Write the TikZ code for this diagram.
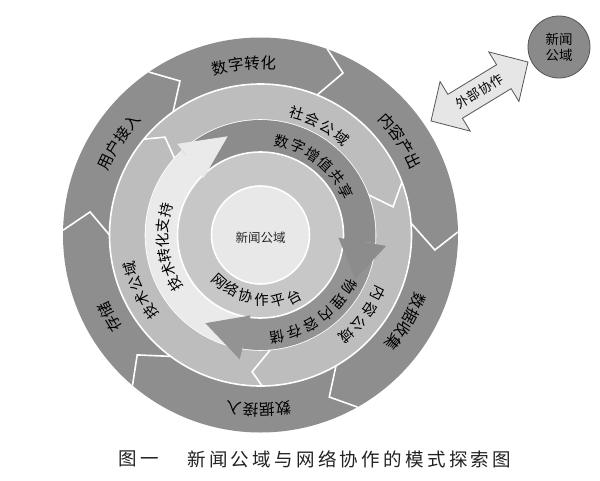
\documentclass[tikz,border=0pt]{standalone}
\usepackage{fontspec}
\setmainfont{Noto Sans CJK SC}
\newfontfamily\capfont[LetterSpace=18]{Noto Sans CJK SC}
\definecolor{outerc}{HTML}{8E8E8E}
\definecolor{ringtwo}{HTML}{BDBDBD}
\definecolor{darka}{HTML}{8C8C8C}
\definecolor{darkb}{HTML}{939393}
\definecolor{lightarr}{HTML}{EAEAEA}
\definecolor{innerc}{HTML}{C7C7C7}
\definecolor{centerc}{HTML}{E8E8E8}
\definecolor{extfill}{HTML}{E6E6E6}
\definecolor{extline}{HTML}{555555}
\definecolor{extcirc}{HTML}{8A8A8A}
\definecolor{capc}{HTML}{222222}
\tikzset{
  wline/.style={draw=white, line width=1.6pt, line join=miter},
  chr/.style={inner sep=0pt, text=black},
  fouter/.style={font=\fontsize{15.5}{15.5}\selectfont},
  fring/.style={font=\fontsize{14.5}{14.5}\selectfont},
}
% clockwise text, tops outward
\newcommand\cwtext[6]{%
  \foreach \ch [count=\i, evaluate=\i as \ang using {#2-(\i-1)*#3}] in {#5}
    \node[chr, #6, rotate=\ang-90] (#1-\i) at (\ang:#4) {\ch};
}
\begin{document}
\begin{tikzpicture}[x=1pt,y=1pt]
\useasboundingbox (0,0) rectangle (600,-480);
\fill[white] (0,0) rectangle (600,-480);
\begin{scope}[shift={(260.5,-235)}]
  % outer ring
  \fill[outerc] (0,0) circle (197.5);
  \draw[wline] (70.2:197.5) -- (63:181.8) -- (68:151);
  \draw[wline] (0.9:197.5) -- (-4.9:175) -- (4.5:151);
  \draw[wline] (-60.6:197.5) -- (-67:176) -- (-60:151);
  \draw[wline] (229.6:197.5) -- (224.2:172) -- (233.5:151);
  \draw[wline] (178.6:197.5) -- (172.3:172) -- (180:151);
  \draw[wline] (124.4:197.5) -- (117.6:173.8) -- (125.4:151);
  % second ring
  \filldraw[fill=ringtwo, wline] (0,0) circle (151);
  \draw[wline] (140.6:151) -- (134.3:136.8) -- (138.3:115);
  \draw[wline] (20.5:151) -- (12:135.5) -- (20.5:115);
  \draw[wline] (-89.4:151) -- (-93.5:137) -- (-85:115);
  % inner ring
  \filldraw[fill=innerc, wline] (0,0) circle (115);
  % arrow bands
  \fill[darka] (133:115) arc[start angle=133, end angle=-4, radius=115] -- (-4:83) arc[start angle=-4, end angle=133, radius=83] -- cycle;
  \fill[darkb] (-4:115) arc[start angle=-4, end angle=-99, radius=115] -- (-99:83) arc[start angle=-99, end angle=-4, radius=83] -- cycle;
  \fill[lightarr] (-99:115) arc[start angle=-99, end angle=-227, radius=115] -- (-227:83) arc[start angle=-227, end angle=-99, radius=83] -- cycle;
  \draw[wline] (0,0) circle (83);
  % center
  \filldraw[fill=centerc, wline] (0,0) circle (49);
  % arrow heads
  \fill[darka] (-2:78) -- (-25:104.5) -- (-5:126) -- cycle;
  \fill[darkb] (-97:81) -- (-122:104) -- (-99.5:126) -- cycle;
  \fill[lightarr] (135:80.5) -- (108.4:104) -- (132.4:123.5) -- cycle;
  % texts outer ring
  \cwtext{ta}{103.6}{5.4}{172}{数,字,转,化}{fouter}
  \cwtext{tb}{42}{5.4}{170}{内,容,产,出}{fouter}
  \cwtext{tc}{-22.8}{5.4}{171}{数,据,收,集}{fouter}
  \cwtext{td}{-82.5}{5.4}{175}{数,据,接,入}{fouter}
  \cwtext{te}{211.3}{5.4}{172}{存,储}{fouter}
  \cwtext{tf}{154.8}{5.4}{171}{用,户,接,入}{fouter}
  % texts second ring
  \cwtext{tg}{73.5}{7.8}{127}{社,会,公,域}{fring}
  \cwtext{th}{-26.5}{7.7}{132}{内,容,公,域}{fring}
  \cwtext{ti}{215.2}{6.9}{134}{技,术,公,域}{fring}
  % texts arrows
  \cwtext{tj}{77}{10}{96}{数,字,增,值,共,享}{fring}
  \cwtext{tk}{-30.2}{10.1}{103}{物,理,内,容,存,储}{fring}
  \cwtext{tl}{209.9}{8.9}{98}{技,术,转,化,支,持}{fring}
  % inner ring text
  \foreach \ch/\ang/\rr [count=\i] in {网/228/62, 络/242/61, 协/256.5/62.5, 作/271/65, 平/285/68, 台/298.5/70.5}
    \node[chr, fring, rotate=\ang+90] (tm-\i) at (\ang:\rr) {\ch};
  \node[chr, font=\fontsize{12.5}{12.5}\selectfont, text=black!85] (ctr) at (0,-3) {新闻公域};
\end{scope}
% external arrow
\begin{scope}[shift={(479.5,-91.5)}, rotate=31.3]
  \draw[fill=extfill, draw=extline, line width=0.8pt, line join=miter]
    (-56.75,0) -- (-28.5,29) -- (-28.5,14) -- (28.5,14) -- (28.5,29) -- (56.75,0)
    -- (28.5,-29) -- (28.5,-14) -- (-28.5,-14) -- (-28.5,-29) -- cycle;
  \node[chr, font=\fontsize{13}{13}\selectfont, rotate=31.3] (ext) at (0,0) {外部协作};
\end{scope}
\node[circle, fill=extcirc, draw=extline, line width=0.8pt, minimum size=62pt, inner sep=0pt,
      align=center, font=\fontsize{13.5}{16}\selectfont] (np) at (559,-47) {新闻\\公域};
% caption
\node[anchor=west, inner sep=0pt, text=capc, font=\capfont\fontsize{18.5}{18.5}\selectfont] (cap1) at (118,-459) {图一};
\node[anchor=west, inner sep=0pt, text=capc, font=\capfont\fontsize{18.5}{18.5}\selectfont] (cap2) at (187,-459) {新闻公域与网络协作的模式探索图};
\end{tikzpicture}
\end{document}
